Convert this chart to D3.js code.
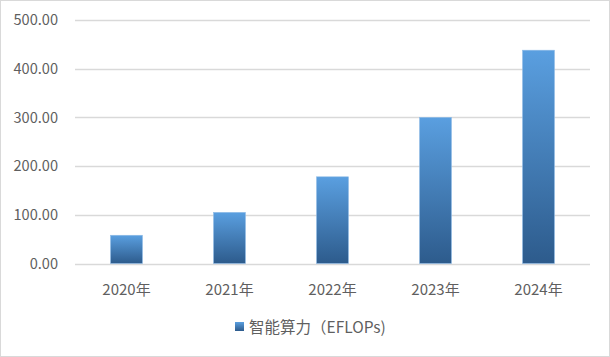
<!DOCTYPE html>
<html><head><meta charset="utf-8">
<script src="https://cdn.jsdelivr.net/npm/d3@7"></script>
<style>
html,body{margin:0;padding:0;background:#fff;}
svg{display:block;}
text{font-family:"Noto Sans CJK SC","Noto Sans",sans-serif;}
</style></head>
<body>
<svg id="c" width="610" height="357"></svg>
<script>
const categories = ["2020年","2021年","2022年","2023年","2024年"];
const values = [58, 105, 178, 300, 438];
const yTicks = [0, 100, 200, 300, 400, 500];
const seriesName = "智能算力（EFLOPs)";

(function(){
const svg = d3.select("#c");
const W = 610, H = 357;
const txt = "#5f5f5f";
svg.append("rect").attr("x",0.5).attr("y",0.5).attr("width",W-1).attr("height",H-1)
  .attr("fill","#fff").attr("stroke","#d9d9d9");

const pLeft = 75, pRight = 590, pTop = 20, pBottom = 263.5;
const x = d3.scaleBand().domain(categories).range([pLeft,pRight]).paddingInner(0.69).paddingOuter(0.345);
const y = d3.scaleLinear().domain([0,500]).range([pBottom,pTop]);

const defs = svg.append("defs");
const g = defs.append("linearGradient").attr("id","bg").attr("x1",0).attr("y1",0).attr("x2",0).attr("y2",1);
g.append("stop").attr("offset","0%").attr("stop-color","#5a9fe0");
g.append("stop").attr("offset","100%").attr("stop-color","#2d5b8c");

svg.append("g").selectAll("line").data(yTicks).join("line")
  .attr("x1",pLeft).attr("x2",pRight)
  .attr("y1",d=>Math.round(y(d))+0.5).attr("y2",d=>Math.round(y(d))+0.5)
  .attr("stroke","#d9d9d9").attr("stroke-width",1.3);

const yAxis = d3.axisLeft(y).tickValues(yTicks).tickFormat(d3.format(".2f")).tickSize(0).tickPadding(0);
const ya = svg.append("g").attr("transform","translate(58,0)").call(yAxis);
ya.select(".domain").remove();
ya.selectAll("text").attr("fill",txt).style("font-size","14.6px")
  .style("font-family","'Noto Sans CJK SC',sans-serif");

svg.append("g").selectAll("rect").data(values).join("rect")
  .attr("x",(d,i)=>x(categories[i])).attr("width",x.bandwidth())
  .attr("y",d=>y(d)).attr("height",d=>pBottom-y(d))
  .attr("fill","url(#bg)").attr("stroke","#8fbbe6").attr("stroke-width",0.6);

const xAxis = d3.axisBottom(x).tickSize(0).tickPadding(0);
const xa = svg.append("g").attr("transform","translate(0,284)").call(xAxis);
xa.select(".domain").remove();
xa.selectAll("text").attr("fill",txt).style("font-size","15px")
  .style("font-family","'Noto Sans CJK SC',sans-serif");

const lg = svg.append("g");
lg.append("rect").attr("x",235).attr("y",322).attr("width",9).attr("height",9).attr("fill","url(#bg)");
lg.append("text").attr("x",249).attr("y",332.5).text(seriesName)
  .attr("fill",txt).style("font-size","15.5px");
})();
</script>
</body></html>
